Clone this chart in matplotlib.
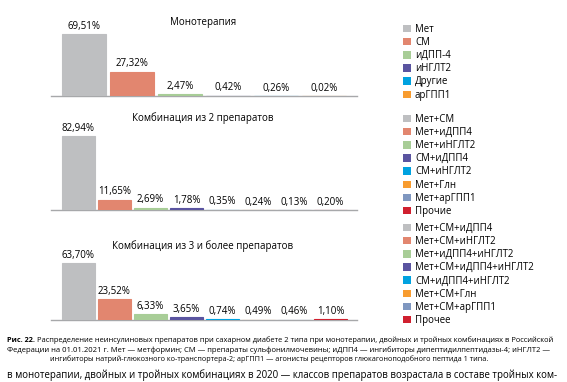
import matplotlib.pyplot as plt
from matplotlib.patches import Patch

plt.rcParams['font.family'] = ['Open Sans', 'DejaVu Sans']

# panel data
titles = ['Монотерапия', 'Комбинация из 2 препаратов', 'Комбинация из 3 и более препаратов']

mono_labels = ['Мет', 'СМ', 'иДПП-4', 'иНГЛТ2', 'Другие', 'арГПП1']
mono_values = [69.51, 27.32, 2.47, 0.42, 0.26, 0.02]

dual_labels = ['Мет+СМ', 'Мет+иДПП4', 'Мет+иНГЛТ2', 'СМ+иДПП4', 'СМ+иНГЛТ2',
               'Мет+Глн', 'Мет+арГПП1', 'Прочие']
dual_values = [82.94, 11.65, 2.69, 1.78, 0.35, 0.24, 0.13, 0.20]

triple_labels = ['Мет+СМ+иДПП4', 'Мет+СМ+иНГЛТ2', 'Мет+иДПП4+иНГЛТ2', 'Мет+СМ+иДПП4+иНГЛТ2',
                 'СМ+иДПП4+иНГЛТ2', 'Мет+СМ+Глн', 'Мет+СМ+арГПП1', 'Прочее']
triple_values = [63.70, 23.52, 6.33, 3.65, 0.74, 0.49, 0.46, 1.10]

colors = ['#bebfc1', '#e2866f', '#a8cd97', '#5a54a0', '#00a2e0', '#f89c2f', '#7f97c0', '#d0202f']

caption_bold = 'Рис. 22.'
caption_1 = ('Распределение неинсулиновых препаратов при сахарном диабете 2 типа при монотерапии, '
             'двойных и тройных комбинациях в Российской')
caption_2 = ('Федерации на 01.01.2021 г. Мет — метформин; СМ — препараты сульфонилмочевины; '
             'иДПП4 — ингибиторы дипептидилпептидазы-4; иНГЛТ2 —')
caption_3 = ('ингибиторы натрий-глюкозного ко-транспортера-2; арГПП1 — агонисты рецепторов '
             'глюкагоноподобного пептида 1 типа.')
body_text = ('в монотерапии, двойных и тройных комбинациях в 2020 — классов препаратов '
             'возрастала в составе тройных ком-')

W, H = 567, 382
fig = plt.figure(figsize=(W / 100, H / 100), dpi=100)
renderer = fig.canvas.get_renderer()


def px(x0, y_base, w, h):
    return [x0 / W, (H - y_base) / H, w / W, h / H]


def fit_text(x0, x1, y, s, size, **kw):
    # shrink the font until the line spans x0..x1 pixels
    t = fig.text(x0 / W, 1 - y / H, s, fontsize=size, va='center', **kw)
    bb = t.get_window_extent(renderer)
    t.set_fontsize(size * (x1 - x0) / bb.width)
    return t


panels = [
    (mono_labels, mono_values, 96, 48, 44, 22, 30),
    (dual_labels, dual_values, 210, 36, 33, 118, 120),
    (triple_labels, triple_values, 320, 36, 33, 246, 229),
]

for k, (labels, values, base, step, bw, ty, ly) in enumerate(panels):
    first_center = 62 + bw / 2
    left = (51 - first_center) / step
    right = (357 - first_center) / step
    ax = fig.add_axes(px(51, base, 306, 80))
    xs = range(len(values))
    ax.bar(xs, values, width=bw / step, color=colors[:len(values)],
           edgecolor=colors[:len(values)], linewidth=0.8, zorder=3)
    for x, v in zip(xs, values):
        ax.text(x, v + 2.5, f'{v:.2f}'.replace('.', ',') + '%', ha='center', va='bottom',
                fontsize=7.0)
    ax.set_xlim(left, right)
    ax.set_ylim(0, 90)
    for s in ['top', 'right', 'left']:
        ax.spines[s].set_visible(False)
    ax.spines['bottom'].set_color('#a7a8aa')
    ax.spines['bottom'].set_linewidth(1.0)
    ax.set_xticks([])
    ax.set_yticks([])
    ax.patch.set_alpha(0)
    fig.text(203 / W, 1 - ty / H, titles[k], ha='center', va='center', fontsize=7.0)

    handles = [Patch(facecolor=c) for c in colors[:len(labels)]]
    fig.legend(handles, labels, loc='upper left', bbox_to_anchor=(403 / W, 1 - (ly - 6) / H),
               frameon=False, fontsize=6.9, handlelength=0.8, handleheight=0.8,
               handletextpad=0.45, labelspacing=0.22, borderpad=0, borderaxespad=0)

t = fig.text(7 / W, 1 - 340 / H, caption_bold, fontsize=5.2, fontweight='bold', va='center')
bb = t.get_window_extent(renderer)
fit_text(bb.x1 + 2, 552, 340, caption_1, 5.5)
fit_text(7, 552, 350, caption_2, 5.5)
fit_text(50, 483, 359, caption_3, 5.5)
tb = fig.text(7 / W, 1 / H, body_text, fontsize=8, va='bottom')
w = tb.get_window_extent(renderer).width
tb.set_fontsize(8 * (560 - 7) / w)

fig.savefig('out.png', dpi=100)
